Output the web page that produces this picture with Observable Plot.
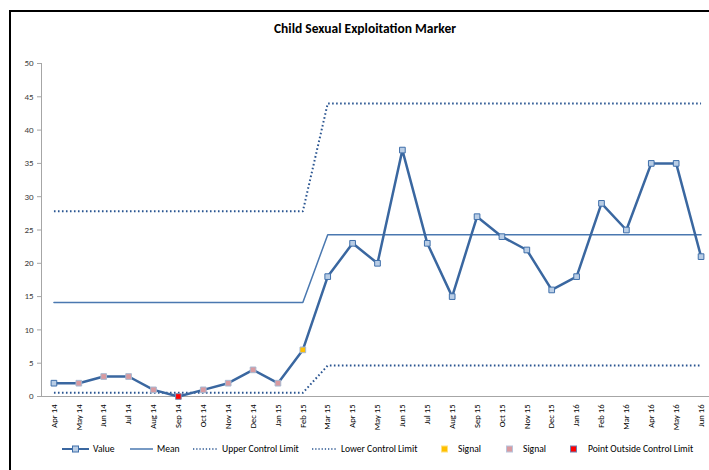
<!DOCTYPE html>
<html>
<head>
<meta charset="utf-8">
<script src="https://cdn.jsdelivr.net/npm/d3@7"></script>
<script src="https://cdn.jsdelivr.net/npm/@observablehq/plot@0.6"></script>
<style>
  html, body { margin: 0; padding: 0; background: #fff; overflow: hidden; }
  #wrap { position: relative; width: 709px; height: 470px; overflow: hidden; font-family: Carlito, Lato, "Open Sans", sans-serif; }
  #frame { position: absolute; left: 9px; top: 10px; width: 760px; height: 520px; border-left: 2px solid #000; border-top: 2px solid #000; box-sizing: border-box; }
  #chart { position: absolute; left: 0; top: 0; }
  #title { position: absolute; left: 0; width: 730px; top: 20px; text-align: center; font-weight: bold; font-size: 13.5px; color: #000; }
  .lg { position: absolute; top: 442px; font-size: 9.6px; color: #000; display: flex; align-items: center; height: 14px; white-space: nowrap; }
  .lg svg { display: block; }
</style>
</head>
<body>
<div id="wrap">
  <div id="frame"></div>
  <div id="chart"></div>
  <div id="title">Child Sexual Exploitation Marker</div>
  <div id="legend"></div>
</div>
<script>
const months = ["Apr 14","May 14","Jun 14","Jul 14","Aug 14","Sep 14","Oct 14","Nov 14","Dec 14","Jan 15","Feb 15",
  "Mar 15","Apr 15","May 15","Jun 15","Jul 15","Aug 15","Sep 15","Oct 15","Nov 15","Dec 15","Jan 16","Feb 16","Mar 16","Apr 16","May 16","Jun 16"];
const values = [2,2,3,3,1,0,1,2,4,2,7,18,23,20,37,23,15,27,24,22,16,18,29,25,35,35,21];
const meanVals = [14.1,14.1,14.1,14.1,14.1,14.1,14.1,14.1,14.1,14.1,14.1,
  24.3,24.3,24.3,24.3,24.3,24.3,24.3,24.3,24.3,24.3,24.3,24.3,24.3,24.3,24.3,24.3];
const uclVals = [27.8,27.8,27.8,27.8,27.8,27.8,27.8,27.8,27.8,27.8,27.8,
  44.0,44.0,44.0,44.0,44.0,44.0,44.0,44.0,44.0,44.0,44.0,44.0,44.0,44.0,44.0,44.0];
const lclVals = [0.55,0.55,0.55,0.55,0.55,0.55,0.55,0.55,0.55,0.55,0.55,
  4.65,4.65,4.65,4.65,4.65,4.65,4.65,4.65,4.65,4.65,4.65,4.65,4.65,4.65,4.65,4.65];
const flags = ["Value","Signal2","Signal2","Signal2","Signal2","Outside","Signal2","Signal2","Signal2","Signal2","Signal1",
  "Value","Value","Value","Value","Value","Value","Value","Value","Value","Value","Value","Value","Value","Value","Value","Value"];
const yTicks = [0,5,10,15,20,25,30,35,40,45,50];

const data = months.map((m, i) => ({i, month: m, value: values[i], mean: meanVals[i], ucl: uclVals[i], lcl: lclVals[i], flag: flags[i]}));

const fillColors = {Value: "#B9CDE5", Signal1: "#FFC000", Signal2: "#D99AA0", Outside: "#FF0000"};
const strokeColors = {Value: "#3F6FAA", Signal2: "#A8B8D0", Signal1: "#A8B8D0", Outside: "#8090B0"};

const plot = Plot.plot({
  width: 709,
  height: 470,
  marginLeft: 41,
  marginRight: 0,
  marginTop: 63,
  marginBottom: 74,
  style: {fontFamily: "Carlito, Lato, 'Open Sans', sans-serif", fontSize: "8.6px", color: "#404040", background: "transparent"},
  x: {type: "linear", domain: [-0.5, months.length - 0.5], range: [41, 713]},
  y: {domain: [0, 50], range: [396, 63]},
  marks: [
    Plot.ruleX([-0.5], {stroke: "#A6A6A6", strokeWidth: 1}),
    Plot.ruleY([0], {stroke: "#A6A6A6", strokeWidth: 1}),
    Plot.axisY({ticks: yTicks, tickSize: 4, tickPadding: 4, stroke: "#A6A6A6", fill: "#404040", label: null, fontSize: 9}),
    Plot.axisX({ticks: d3.range(months.length), tickFormat: i => months[i], tickSize: 0, tickPadding: 8, tickRotate: -90, fill: "#000", label: null, fontSize: 8.6}),
    Plot.line(data, {x: "i", y: "ucl", stroke: "#2A5591", strokeWidth: 2, strokeDasharray: "1.6 2.4", strokeLinecap: "butt"}),
    Plot.line(data, {x: "i", y: "lcl", stroke: "#2A5591", strokeWidth: 2, strokeDasharray: "1.6 2.4", strokeLinecap: "butt"}),
    Plot.line(data, {x: "i", y: "mean", stroke: "#4A78B0", strokeWidth: 1.5}),
    Plot.line(data, {x: "i", y: "value", stroke: "#3A67A0", strokeWidth: 2.5}),
    Plot.dot(data, {x: "i", y: "value", symbol: "square", r: 3.2, fill: d => fillColors[d.flag], stroke: d => strokeColors[d.flag], strokeWidth: 1})
  ]
});
document.getElementById("chart").appendChild(plot);

// legend
const legendItems = [
  {left: 62, text: "Value", w: 27, kind: "lineMarker"},
  {left: 130, text: "Mean", w: 23, kind: "line"},
  {left: 193, text: "Upper Control Limit", w: 25, kind: "dotted"},
  {left: 312, text: "Lower Control Limit", w: 25, kind: "dotted"},
  {left: 441, text: "Signal", w: 7, kind: "sq", fill: "#FFC000", stroke: "#FFE080", gap: 10},
  {left: 506, text: "Signal", w: 7, kind: "sq", fill: "#D99AA0", stroke: "#B8C4DC", gap: 10},
  {left: 570, text: "Point Outside  Control Limit", w: 7, kind: "sq", fill: "#FF0000", stroke: "#7080B0", gap: 11}
];
const lg = document.getElementById("legend");
for (const it of legendItems) {
  const d = document.createElement("div");
  d.className = "lg";
  d.style.left = it.left + "px";
  let sw = `<svg width="${it.w}" height="12">`;
  if (it.kind === "lineMarker") {
    sw += `<line x1="0" x2="${it.w}" y1="6" y2="6" stroke="#3A67A0" stroke-width="2"/><rect x="${it.w/2-3}" y="3" width="6" height="6" fill="#B9CDE5" stroke="#3F6FAA" stroke-width="1"/>`;
  } else if (it.kind === "line") {
    sw += `<line x1="0" x2="${it.w}" y1="6" y2="6" stroke="#4A78B0" stroke-width="1.5"/>`;
  } else if (it.kind === "dotted") {
    sw += `<line x1="0" x2="${it.w}" y1="6" y2="6" stroke="#2A5591" stroke-width="1.6" stroke-dasharray="1.3 1.9"/>`;
  } else {
    sw += `<rect x="0.5" y="3" width="6" height="6" fill="${it.fill}" stroke="${it.stroke}" stroke-width="1"/>`;
  }
  sw += `</svg>`;
  d.innerHTML = sw + `<span style="margin-left:${it.gap || 4}px">${it.text}</span>`;
  lg.appendChild(d);
}
</script>
</body>
</html>
